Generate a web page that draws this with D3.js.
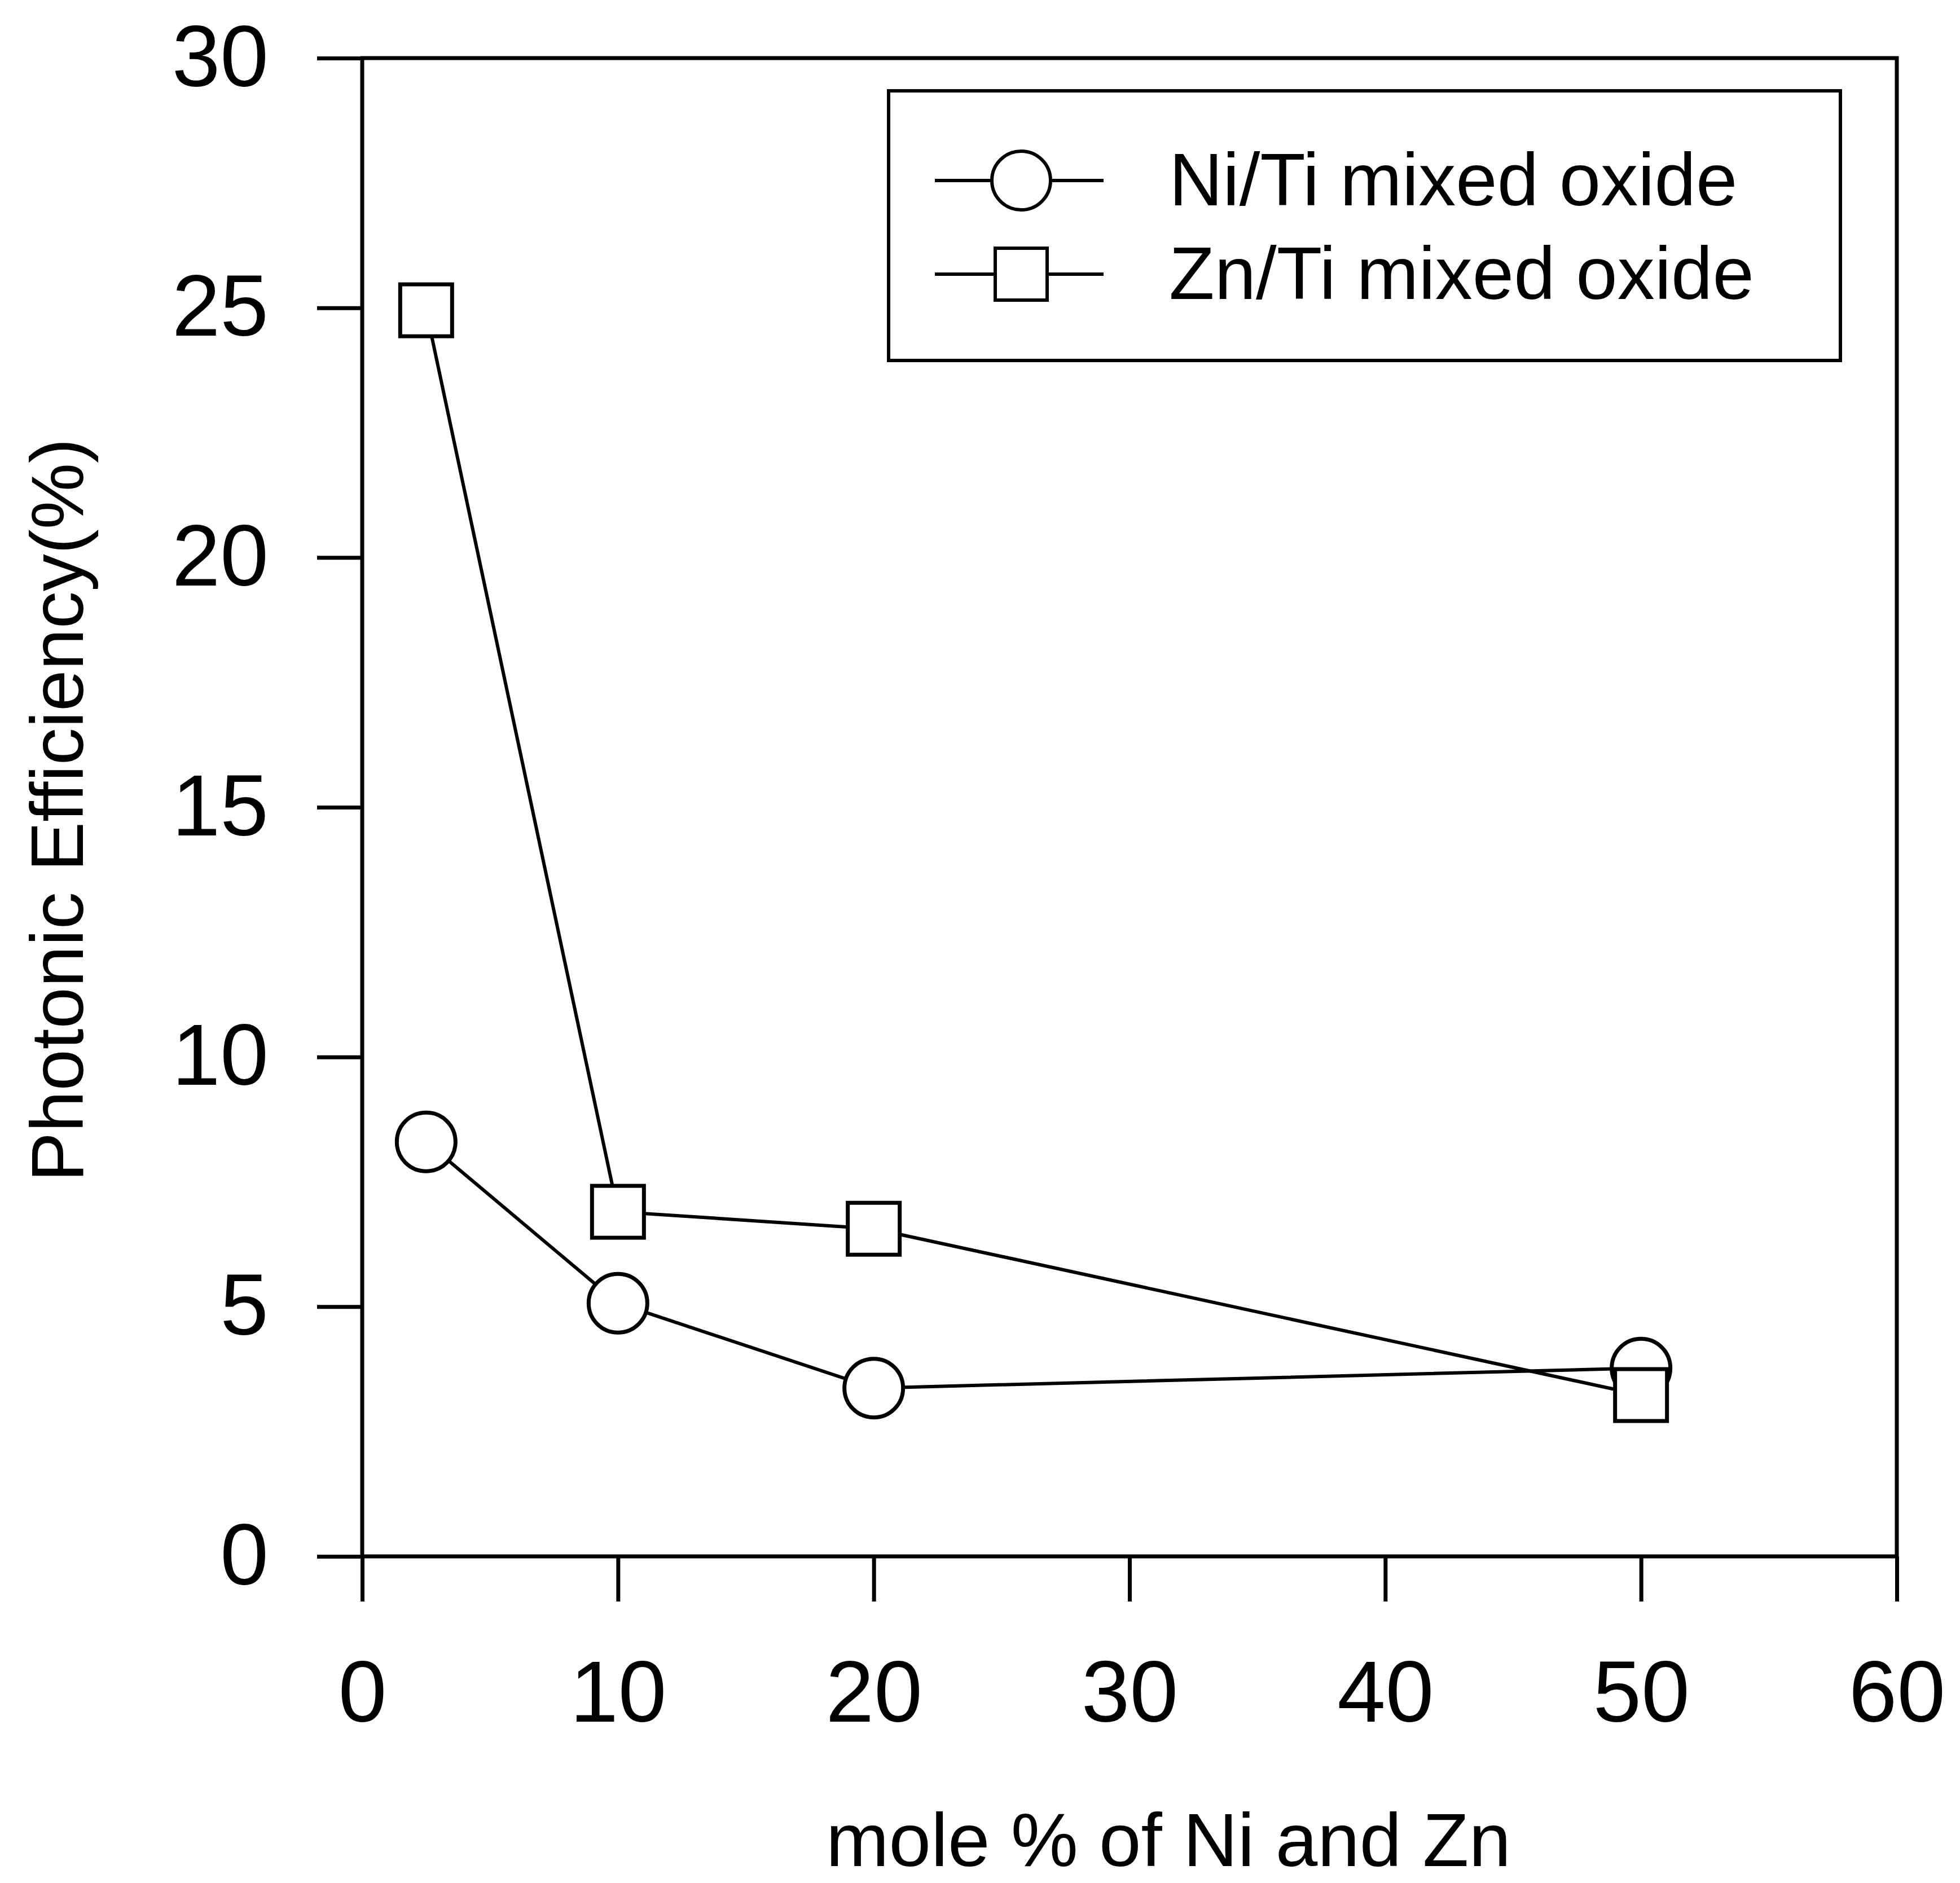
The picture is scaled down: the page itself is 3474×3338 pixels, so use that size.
<!DOCTYPE html>
<html>
<head>
<meta charset="utf-8">
<script src="https://cdn.jsdelivr.net/npm/d3@7"></script>
<style>
  html, body { margin: 0; padding: 0; background: #fff; }
  svg text { font-family: "Liberation Sans", Arial, sans-serif; fill: #000; }
</style>
</head>
<body>
<svg id="chart" width="3474" height="3338"></svg>
<script>
// DATA
const moleX = [2.5, 10, 20, 50];
const niTi = [8.3, 5.07, 3.37, 3.77];
const znTi = [24.95, 6.9, 6.56, 3.23];
const xTicks = [0, 10, 20, 30, 40, 50, 60];
const yTicks = [0, 5, 10, 15, 20, 25, 30];
const seriesNames = ["Ni/Ti mixed oxide", "Zn/Ti mixed oxide"];

// LAYOUT
const plotLeft = 642, plotRight = 3362, plotTop = 103, plotBottom = 2759;
const svg = d3.select("#chart");

const x = d3.scaleLinear().domain([0, 60]).range([plotLeft, plotRight]);
const y = d3.scaleLinear().domain([0, 30]).range([plotBottom, plotTop]);

// frame
svg.append("rect")
    .attr("x", plotLeft).attr("y", plotTop)
    .attr("width", plotRight - plotLeft).attr("height", plotBottom - plotTop)
    .attr("fill", "none").attr("stroke", "#000").attr("stroke-width", 7);

// axes
const yAxis = svg.append("g")
    .attr("transform", `translate(${plotLeft},0)`)
    .call(d3.axisLeft(y).tickValues(yTicks).tickSize(80).tickSizeOuter(0).tickPadding(86));
const xAxis = svg.append("g")
    .attr("transform", `translate(0,${plotBottom})`)
    .call(d3.axisBottom(x).tickValues(xTicks).tickSize(80).tickSizeOuter(0).tickPadding(104));

[xAxis, yAxis].forEach(ax => {
  ax.select(".domain").remove();
  ax.selectAll(".tick line").attr("stroke", "#000").attr("stroke-width", 7);
  ax.selectAll(".tick text")
      .attr("font-size", 154)
      .attr("font-family", "\"Liberation Sans\", Arial, sans-serif")
      .attr("fill", "#000");
});

// axis titles
svg.append("text")
    .attr("x", 2071).attr("y", 3308)
    .attr("text-anchor", "middle")
    .attr("font-size", 134)
    .text("mole % of Ni and Zn");

svg.append("text")
    .attr("transform", "translate(147,1436) rotate(-90)")
    .attr("text-anchor", "middle")
    .attr("font-size", 132)
    .text("Photonic Efficiency(%)");

// series lines
const line = d3.line().x((d, i) => x(moleX[i])).y(d => y(d));
svg.append("path").datum(niTi).attr("d", line)
    .attr("fill", "none").attr("stroke", "#000").attr("stroke-width", 6);
svg.append("path").datum(znTi).attr("d", line)
    .attr("fill", "none").attr("stroke", "#000").attr("stroke-width", 6);

// markers
const r = 52, side = 92;
svg.append("g").selectAll("circle").data(niTi).join("circle")
    .attr("cx", (d, i) => x(moleX[i])).attr("cy", d => y(d)).attr("r", r)
    .attr("fill", "#fff").attr("stroke", "#000").attr("stroke-width", 7);
svg.append("g").selectAll("rect").data(znTi).join("rect")
    .attr("x", (d, i) => x(moleX[i]) - side / 2).attr("y", d => y(d) - side / 2)
    .attr("width", side).attr("height", side)
    .attr("fill", "#fff").attr("stroke", "#000").attr("stroke-width", 7);

// legend
const legend = svg.append("g");
legend.append("rect")
    .attr("x", 1575).attr("y", 161).attr("width", 1687).attr("height", 478)
    .attr("fill", "#fff").attr("stroke", "#000").attr("stroke-width", 6);

const rowY = [320, 486];
seriesNames.forEach((name, i) => {
  legend.append("line")
      .attr("x1", 1657).attr("x2", 1956).attr("y1", rowY[i]).attr("y2", rowY[i])
      .attr("stroke", "#000").attr("stroke-width", 6);
  if (i === 0) {
    legend.append("circle").attr("cx", 1810).attr("cy", rowY[i]).attr("r", r)
        .attr("fill", "#fff").attr("stroke", "#000").attr("stroke-width", 6);
  } else {
    legend.append("rect").attr("x", 1810 - side / 2).attr("y", rowY[i] - side / 2)
        .attr("width", side).attr("height", side)
        .attr("fill", "#fff").attr("stroke", "#000").attr("stroke-width", 6);
  }
  legend.append("text")
      .attr("x", 2072).attr("y", rowY[i] + 44)
      .attr("font-size", 132)
      .text(name);
});
</script>
</body>
</html>
